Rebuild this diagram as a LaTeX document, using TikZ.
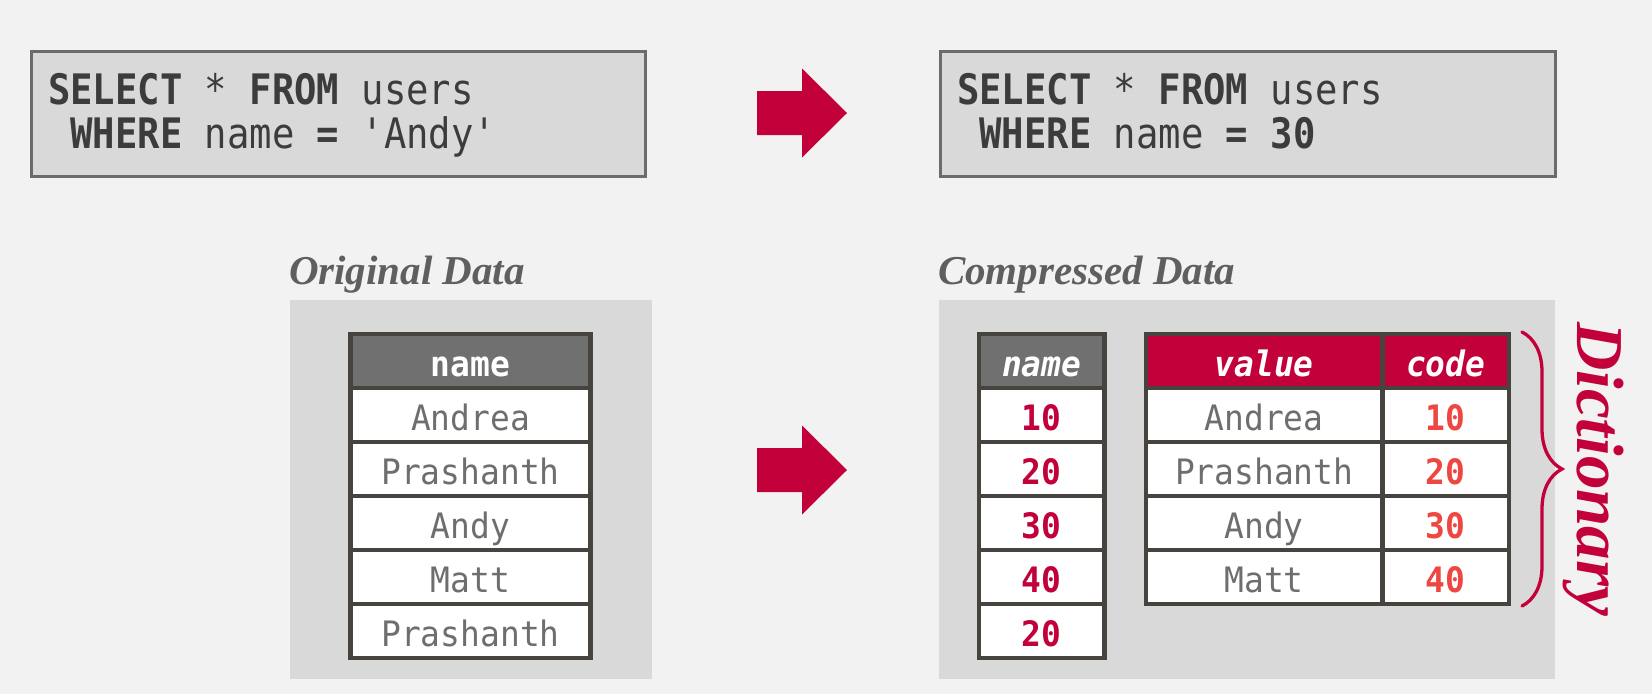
\documentclass[tikz,border=0pt]{standalone}
\usepackage{fontspec}
\setmainfont{Liberation Serif}
\newfontfamily\sqlfont[FakeStretch=0.886]{DejaVu Sans Mono}
\newfontfamily\tabfont[FakeStretch=0.94]{DejaVu Sans Mono}
\usetikzlibrary{decorations.pathreplacing}
\definecolor{bgcol}{HTML}{F2F2F2}
\definecolor{panelcol}{HTML}{D9D9D9}
\definecolor{sqlborder}{HTML}{6B6B6B}
\definecolor{sqltext}{HTML}{3C3C3C}
\definecolor{labelcol}{HTML}{5F5F5F}
\definecolor{tline}{HTML}{474440}
\definecolor{hgray}{HTML}{707070}
\definecolor{crimson}{HTML}{C2003A}
\definecolor{codered}{HTML}{EE4640}
\definecolor{nametext}{HTML}{6E6E6E}
\tikzset{
  panel/.style={fill=panelcol, draw=none, inner sep=0pt, outer sep=0pt, anchor=north west},
  sqlbox/.style={fill=panelcol, draw=sqlborder, line width=3pt, inner sep=0pt, outer sep=0pt, anchor=north west},
  sqlline/.style={anchor=base west, inner sep=0pt, outer sep=0pt, text=sqltext, font=\sqlfont\fontsize{42}{46}\selectfont},
  biglabel/.style={anchor=base west, inner sep=0pt, outer sep=0pt, text=labelcol, font=\bfseries\itshape\fontsize{41}{46}\selectfont},
  cell/.style={draw=tline, line width=4.5pt, inner sep=0pt, outer sep=0pt, minimum height=54pt, text height=30pt, text depth=0pt},
  namecell/.style={cell, fill=white, text=nametext, font=\tabfont\fontsize{35}{40}\selectfont},
  numcell/.style={cell, fill=white, text=crimson, font=\tabfont\bfseries\fontsize{35}{40}\selectfont},
  codecell/.style={cell, fill=white, text=codered, font=\tabfont\bfseries\fontsize{35}{40}\selectfont},
  hdrgray/.style={cell, fill=hgray, text=white, font=\tabfont\bfseries\fontsize{35}{40}\selectfont},
  hdrgrayit/.style={cell, fill=hgray, text=white, font=\tabfont\bfseries\itshape\fontsize{35}{40}\selectfont},
  hdrred/.style={cell, fill=crimson, text=white, font=\tabfont\bfseries\itshape\fontsize{35}{40}\selectfont},
  bigarrow/.style={fill=crimson, draw=none},
  dictbrace/.style={draw=crimson, line width=3.3pt, line cap=round, decorate, decoration={brace, amplitude=40pt}}
}
\begin{document}
\begin{tikzpicture}[x=1pt,y=-1pt]
\useasboundingbox (0,0) rectangle (1652,694);
\fill[bgcol] (0,0) rectangle (1652,694);

% SQL boxes
\node[sqlbox, minimum width=613.5pt, minimum height=125pt] (q1) at (31.5,51) {};
\node[sqlline] (q1a) at (48,104.5) {\textbf{SELECT} * \textbf{FROM} users};
\node[sqlline] (q1b) at (70.4,148) {\textbf{WHERE} name \textbf{=} 'Andy'};

\node[sqlbox, minimum width=615pt, minimum height=125pt] (q2) at (940.5,51) {};
\node[sqlline] (q2a) at (957,104.5) {\textbf{SELECT} * \textbf{FROM} users};
\node[sqlline] (q2b) at (979.4,148) {\textbf{WHERE} name \textbf{= 30}};

% arrows
\fill[bigarrow] (757,91) -- (802,91) -- (802,68.5) -- (847,113) -- (802,157.5) -- (802,135) -- (757,135) -- cycle;
\fill[bigarrow] (757,448) -- (802,448) -- (802,425.5) -- (847,470) -- (802,514.5) -- (802,492) -- (757,492) -- cycle;

% labels
\node[biglabel] (origlbl) at (289,284) {Original Data};
\node[biglabel] (complbl) at (938,284) {Compressed Data};

% panels
\node[panel, minimum width=362pt, minimum height=378.5pt] (origpanel) at (290,300) {};
\node[panel, minimum width=616.5pt, minimum height=378.5pt] (comppanel) at (938.7,300) {};

% original table
\node[hdrgray, minimum width=240pt] (oh) at (470.5,361) {name};
\node[namecell, minimum width=240pt] (o1) at (470.5,415) {Andrea};
\node[namecell, minimum width=240pt] (o2) at (470.5,469) {Prashanth};
\node[namecell, minimum width=240pt] (o3) at (470.5,523) {Andy};
\node[namecell, minimum width=240pt] (o4) at (470.5,577) {Matt};
\node[namecell, minimum width=240pt] (o5) at (470.5,631) {Prashanth};

% compressed name column
\node[hdrgrayit, minimum width=125.5pt] (ch) at (1041.75,361) {name};
\node[numcell, minimum width=125.5pt] (c1) at (1041.75,415) {10};
\node[numcell, minimum width=125.5pt] (c2) at (1041.75,469) {20};
\node[numcell, minimum width=125.5pt] (c3) at (1041.75,523) {30};
\node[numcell, minimum width=125.5pt] (c4) at (1041.75,577) {40};
\node[numcell, minimum width=125.5pt] (c5) at (1041.75,631) {20};

% dictionary
\node[hdrred, minimum width=236.3pt] (vh) at (1264.15,361) {value};
\node[namecell, minimum width=236.3pt] (v1) at (1264.15,415) {Andrea};
\node[namecell, minimum width=236.3pt] (v2) at (1264.15,469) {Prashanth};
\node[namecell, minimum width=236.3pt] (v3) at (1264.15,523) {Andy};
\node[namecell, minimum width=236.3pt] (v4) at (1264.15,577) {Matt};
\node[hdrred, minimum width=126.7pt] (kh) at (1445.65,361) {code};
\node[codecell, minimum width=126.7pt] (k1) at (1445.65,415) {10};
\node[codecell, minimum width=126.7pt] (k2) at (1445.65,469) {20};
\node[codecell, minimum width=126.7pt] (k3) at (1445.65,523) {30};
\node[codecell, minimum width=126.7pt] (k4) at (1445.65,577) {40};

% brace and label
\coordinate (bt) at (1522,332);
\coordinate (bb) at (1522,606);
\draw[dictbrace] (bt) -- (bb);
\node[anchor=base west, inner sep=0pt, outer sep=0pt, rotate=-90, text=crimson, font=\bfseries\itshape\fontsize{67}{70}\selectfont] (dict) at (1577,322) {Dictionary};
\end{tikzpicture}
\end{document}
